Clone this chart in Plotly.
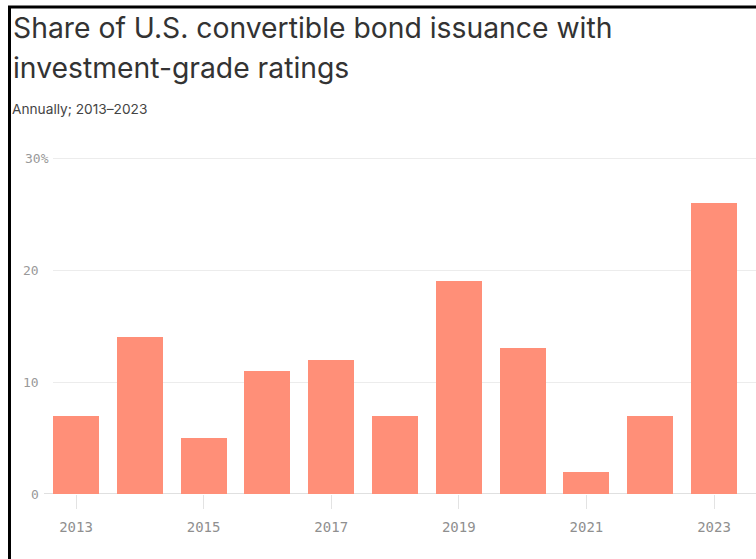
import plotly.graph_objects as go

years = [2013, 2014, 2015, 2016, 2017, 2018, 2019, 2020, 2021, 2022, 2023]
shares = [7, 14, 5, 11, 12, 7, 19, 13, 2, 7, 26]
y_ticks = [0, 10, 20, 30]
y_tick_text = ["0", "10", "20", "30%"]
x_ticks = [2013, 2015, 2017, 2019, 2021, 2023]

W, H = 756, 559
L, R, T, B = 53, 756, 140, 494  # plot area in pixels
px_per_year = 63.8
px_per_unit = 11.2

def px_x(p):
    return (p - L) / (R - L)

def px_y(p):
    return (B - p) / (B - T)

fig = go.Figure(go.Bar(
    x=years, y=shares, marker_color="#ff8f78", width=0.72,
    marker_line_width=0,
))

x0 = 2013 - (76 - L) / px_per_year
x1 = 2023 + (R - 714) / px_per_year
fig.update_layout(
    width=W, height=H,
    margin=dict(l=L, r=W - R, t=T, b=H - B),
    plot_bgcolor="white", paper_bgcolor="white",
    showlegend=False,
    xaxis=dict(range=[x0, x1], tickvals=x_ticks, ticks="outside", ticklen=14,
               tickcolor="#e3e3e3", tickwidth=1, showgrid=False, zeroline=False,
               ticklabelstandoff=6,
               tickfont=dict(family="DejaVu Sans Mono", size=14, color="#8f8f8f")),
    yaxis=dict(range=[0, (B - T) / px_per_unit], tickvals=y_ticks, showticklabels=False,
               showgrid=True, gridcolor="#ececec", gridwidth=1, zeroline=False),
    bargap=0,
)

annotations = []
for v, t in zip(y_ticks, y_tick_text):
    right_px = 51 if t.endswith("%") else 41
    annotations.append(dict(
        xref="paper", yref="y", x=px_x(right_px), y=v, text=t, showarrow=False,
        xanchor="right", yanchor="middle",
        font=dict(family="DejaVu Sans Mono", size=13, color="#999999")))

annotations += [
    dict(xref="paper", yref="paper", x=px_x(11), y=px_y(28), text="Share of U.S. convertible bond issuance with",
         showarrow=False, xanchor="left", yanchor="middle",
         font=dict(family="Inter", size=28.3, color="#333333")),
    dict(xref="paper", yref="paper", x=px_x(11), y=px_y(68), text="investment-grade ratings",
         showarrow=False, xanchor="left", yanchor="middle",
         font=dict(family="Inter", size=28.3, color="#333333")),
    dict(xref="paper", yref="paper", x=px_x(10), y=px_y(109), text="Annually; 2013–2023",
         showarrow=False, xanchor="left", yanchor="middle",
         font=dict(family="Inter", size=13.7, color="#444444")),
]
fig.update_layout(annotations=annotations)

shapes = [
    # zero line
    dict(type="line", xref="paper", yref="y", x0=px_x(44), x1=1, y0=0, y1=0,
         line=dict(color="#e0e0e0", width=2), layer="below"),
    # black frame (left and top)
    dict(type="line", xref="paper", yref="paper", x0=px_x(9.5), x1=px_x(9.5), y0=px_y(6), y1=px_y(H + 5),
         line=dict(color="black", width=3)),
    dict(type="line", xref="paper", yref="paper", x0=px_x(8), x1=px_x(W + 5), y0=px_y(7), y1=px_y(7),
         line=dict(color="black", width=3)),
]
fig.update_layout(shapes=shapes)

fig.write_html("out.html")
